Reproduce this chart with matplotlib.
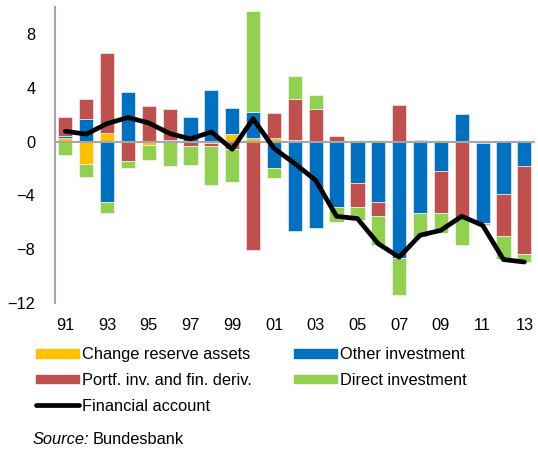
import numpy as np
import matplotlib.pyplot as plt
from matplotlib.patches import Patch
from matplotlib.lines import Line2D

plt.rcParams['font.family'] = ['Liberation Sans', 'DejaVu Sans']

years = list(range(1991, 2014))
xlabels = ['91', '93', '95', '97', '99', '01', '03', '05', '07', '09', '11', '13']

reserve = [0.3, -1.65, 0.65, 0.0, -0.27, 0.0, 0.05, -0.1, 0.6, 0.3, 0.3, 0.1,
           0.0, 0.0, 0.1, 0.1, 0.0, 0.0, 0.15, 0.0, -0.1, 0.0, 0.0]
other = [0.1, 1.7, -4.5, 3.67, 0.0, 0.1, 1.8, 3.87, 1.89, 1.89, -1.98, -6.67,
         -6.4, -4.89, -3.1, -4.47, -8.66, -5.29, -2.2, 2.03, -5.96, -3.87, -1.79]
portf = [1.4, 1.44, 5.96, -1.46, 2.65, 2.36, -0.32, -0.2, -0.57, -8.04, 1.8, 3.05,
         2.4, 0.4, -1.79, -1.04, 2.75, 0.1, -3.13, -5.6, 0.0, -3.13, -6.55]
direct = [-1.0, -1.0, -0.8, -0.52, -1.07, -1.8, -1.4, -2.93, -2.46, 7.5, -0.72, 1.74,
          1.09, -1.12, -0.97, -2.18, -2.75, -1.79, -1.46, -2.06, -0.15, -1.74, -0.62]
financial = [0.77, 0.55, 1.34, 1.79, 1.39, 0.6, 0.2, 0.72, -0.57, 1.7, -0.5, -1.64,
             -2.88, -5.56, -5.73, -7.6, -8.6, -6.97, -6.6, -5.56, -6.23, -8.78, -8.96]

series = [
    ('Change reserve assets', reserve, '#FFC000'),
    ('Other investment', other, '#0070C0'),
    ('Portf. inv. and fin. deriv.', portf, '#C0504D'),
    ('Direct investment', direct, '#92D050'),
]

fig = plt.figure(figsize=(5.38, 4.5), dpi=100)
ax = fig.add_axes([0.102, 0.327, 0.892, 0.657])

x = np.arange(len(years))
pos = np.zeros(len(years))
neg = np.zeros(len(years))
for name, vals, col in series:
    v = np.array(vals)
    base = np.where(v >= 0, pos, neg)
    ax.bar(x, v, bottom=base, width=0.68, color=col, edgecolor='white', linewidth=0.4)
    pos += np.where(v >= 0, v, 0)
    neg += np.where(v < 0, v, 0)

ax.axhline(0, color='#A6A6A6', lw=1.5, zorder=3)
ax.plot(x, financial, color='black', lw=3.4, solid_joinstyle='round',
        solid_capstyle='round', zorder=4)

ax.set_xlim(-0.5, len(years) - 0.5)
ax.set_ylim(-12, 10)
ax.set_yticks([-12, -8, -4, 0, 4, 8])
ax.set_xticks(x[::2])
ax.set_xticklabels(xlabels)
ax.tick_params(length=0, labelsize=11.8)
ax.tick_params(axis='x', pad=11)
ax.tick_params(axis='y', pad=14)
for s in ['top', 'right', 'bottom']:
    ax.spines[s].set_visible(False)
ax.spines['left'].set_color('#A6A6A6')
ax.spines['left'].set_linewidth(1.5)

handles = [Patch(color='#FFC000', label='Change reserve assets'),
           Patch(color='#C0504D', label='Portf. inv. and fin. deriv.'),
           Line2D([], [], color='black', lw=3.4, solid_capstyle='round', label='Financial account'),
           Patch(color='#0070C0', label='Other investment'),
           Patch(color='#92D050', label='Direct investment')]
fig.legend(handles=handles, ncol=2, loc='upper left', bbox_to_anchor=(0.067, 0.229),
           frameon=False, fontsize=11.8, handlelength=2.6, handleheight=0.45,
           handletextpad=0.2, columnspacing=2.6, labelspacing=0.66, borderaxespad=0,
           borderpad=0)

t1 = fig.text(0.06, 0.013, 'Source:', fontsize=11.8, style='italic')
fig.canvas.draw()
bb = t1.get_window_extent()
fig.text(bb.x1 / fig.bbox.width + 0.008, 0.013, 'Bundesbank', fontsize=11.8)

fig.savefig('out.png', dpi=100)
